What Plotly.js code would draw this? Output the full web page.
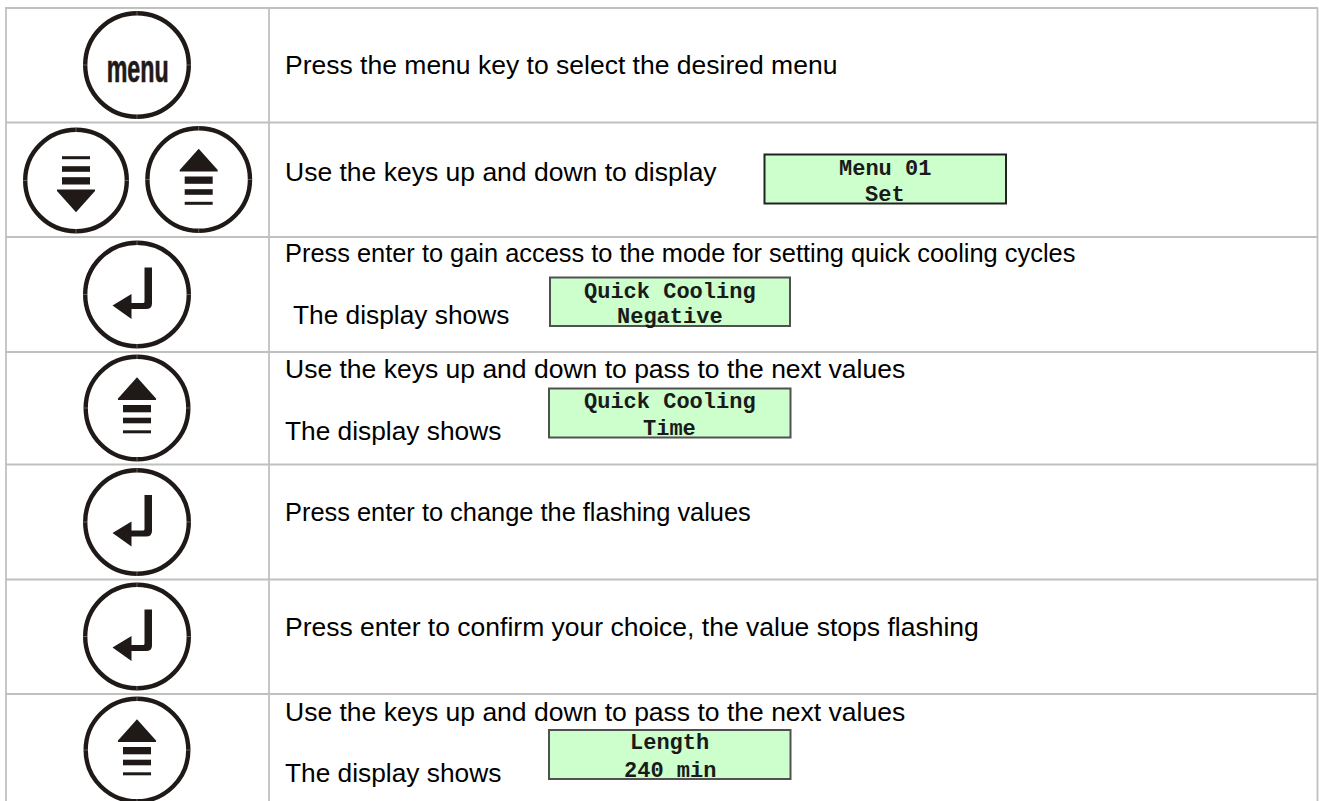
<!DOCTYPE html>
<html><head><meta charset="utf-8">
<script src="https://cdn.plot.ly/plotly-3.0.1.min.js"></script>
<style>html,body{margin:0;padding:0;background:#fff}#c{width:1319px;height:801px}</style>
</head><body><div id="c"></div>
<script>
// Content
const instructions = [
  "Press the menu key to select the desired menu",
  "Use the keys up and down to display",
  "Press enter to gain access to the mode for setting quick cooling cycles",
  "Use the keys up and down to pass to the next values",
  "Press enter to change the flashing values",
  "Press enter to confirm your choice, the value stops flashing",
  "Use the keys up and down to pass to the next values"
];
const displayLabel = "The display shows";
const displayLines = [["Menu 01","Set"],["Quick Cooling","Negative"],["Quick Cooling","Time"],["Length","240 min"]];
const menuKeyLabel = "menu";

// Layout, in page pixels
const rowEdges = [8, 122.5, 237, 352, 464.5, 579.5, 694];
const tableLeft = 6, tableRight = 1318, columnEdge = 269, tableBottom = 801;
const instructionX = 284;
const instructionY = [65, 171.5, 253, 369, 512, 627, 712];
const instructionSize = [26.5, 26.5, 25.4, 26.5, 25.4, 26.5, 26.5];
const labelPos = [[292,315],[284,431],[284,773]];
const boxes = [[764.5,1006,154.5,203.5],[550,790,277.5,326],[549,790.5,388.5,437.5],[549,790.5,730,779]];
const boxColors = ["#222222","#505050","#505050","#505050"];
const boxTextY = [[169.5,195],[292.5,317.5],[402.5,429],[743,771]];
const keys = [
  ["menu",137,65,54],["down",76,180.5,53],["up",198.7,179.5,53.5],
  ["enter",137,294.5,54],["up",137,408,53.5],["enter",137,522,54],["enter",137,636.5,54],["up",137,750,53.5]
];

const INK = "#1f1a17", GRID = "#c0c0c0", BOXFILL = "#ccffcc";
const shapes = [], annotations = [];
function line(x0,y0,x1,y1,color,width){shapes.push({type:"line",xref:"x",yref:"y",x0,y0,x1,y1,line:{color,width}});}
function fillPath(d){shapes.push({type:"path",xref:"x",yref:"y",path:d,fillcolor:INK,line:{width:0}});}
function rect(x0,x1,y0,y1){shapes.push({type:"rect",xref:"x",yref:"y",x0,x1,y0,y1,fillcolor:INK,line:{width:0}});}

// Table grid
rowEdges.forEach(y=>line(tableLeft-1,y,tableRight,y,GRID,1.8));
[tableLeft,columnEdge,tableRight-0.5].forEach(x=>line(x,rowEdges[0],x,tableBottom,GRID,1.8));

// Key icons
function bars(cx,cy,s){
  rect(cx-14,cx+14,cy+s*-3,cy+s*4.3);
  rect(cx-14,cx+14,cy+s*9.7,cy+s*15.3);
  rect(cx-14,cx+14,cy+s*22.3,cy+s*25.3);
  fillPath(`M${cx} ${cy-s*30.7} L${cx+19} ${cy-s*9.5} L${cx+19} ${cy-s*8} L${cx-19} ${cy-s*8} L${cx-19} ${cy-s*9.5} Z`);
}
function enter(cx,cy){
  const X=v=>cx+v, Y=v=>cy+v;
  fillPath(`M${X(7.5)} ${Y(-27)} L${X(15)} ${Y(-27)} L${X(15)} ${Y(9)} Q${X(15)} ${Y(14.5)} ${X(9)} ${Y(14.5)} L${X(-5.5)} ${Y(14.5)} L${X(-5.5)} ${Y(24.5)} L${X(-24.5)} ${Y(11)} L${X(-5.5)} ${Y(-0.5)} L${X(-5.5)} ${Y(8.5)} L${X(6)} ${Y(8.5)} Q${X(7.5)} ${Y(8.5)} ${X(7.5)} ${Y(7)} Z`);
}
keys.forEach(([kind,cx,cy,r])=>{
  shapes.push({type:"circle",xref:"x",yref:"y",x0:cx-r+2.2,x1:cx+r-2.2,y0:cy-r+2.2,y1:cy+r-2.2,fillcolor:"#fff",line:{color:INK,width:4.4}});
  [[0,-1],[0,1],[-1,0],[1,0]].forEach(([a,b])=>line(cx+a*(r-4.5),cy+b*(r-4.5),cx+a*r,cy+b*r,"#aaa6a4",0.5));
  if(kind==="up") bars(cx,cy,1);
  if(kind==="down") bars(cx,cy+1,-1);
  if(kind==="enter") enter(cx,cy);
});

// Text
const SANS = "Liberation Sans, Arial, sans-serif", MONO = "Liberation Mono, Courier New, monospace";
function text(t,x,y,size,family,anchor,color){
  annotations.push({text:t,x,y,xref:"x",yref:"y",showarrow:false,xanchor:anchor,yanchor:"middle",
    align:anchor,borderpad:0,font:{size,family,color:color||"#000"}});
}
instructions.forEach((t,i)=>text(t,instructionX,instructionY[i],instructionSize[i],SANS,"left"));
labelPos.forEach(([x,y])=>text(displayLabel,x,y,26.3,SANS,"left"));
boxes.forEach(([x0,x1,y0,y1],i)=>{
  shapes.push({type:"rect",xref:"x",yref:"y",x0,x1,y0,y1,fillcolor:BOXFILL,line:{color:boxColors[i],width:2}});
  displayLines[i].forEach((t,j)=>text("<b>"+t+"</b>",(x0+x1)/2,boxTextY[i][j],22,MONO,"center","#1a1a1a"));
});
text("<b>"+menuKeyLabel+"</b>",137,69,38,"Liberation Sans Narrow, Liberation Sans, sans-serif","center",INK);

const layout = {
  width:1319,height:801,margin:{l:0,r:0,t:0,b:0},paper_bgcolor:"#fff",plot_bgcolor:"#fff",showlegend:false,
  xaxis:{range:[0,1319],visible:false,fixedrange:true},
  yaxis:{range:[801,0],visible:false,fixedrange:true},
  shapes,annotations
};
Plotly.newPlot("c",[{x:[0],y:[0],mode:"markers",marker:{opacity:0},hoverinfo:"skip"}],layout,{displayModeBar:false,staticPlot:true}).then(gd=>{
  gd.querySelectorAll(".annotation-text").forEach(t=>{
    if(t.textContent===menuKeyLabel){
      t.setAttribute("textLength","62");t.setAttribute("lengthAdjust","spacingAndGlyphs");
      t.style.stroke=INK;t.style.strokeWidth="0.7px";
    }
  });
});
</script></body></html>
